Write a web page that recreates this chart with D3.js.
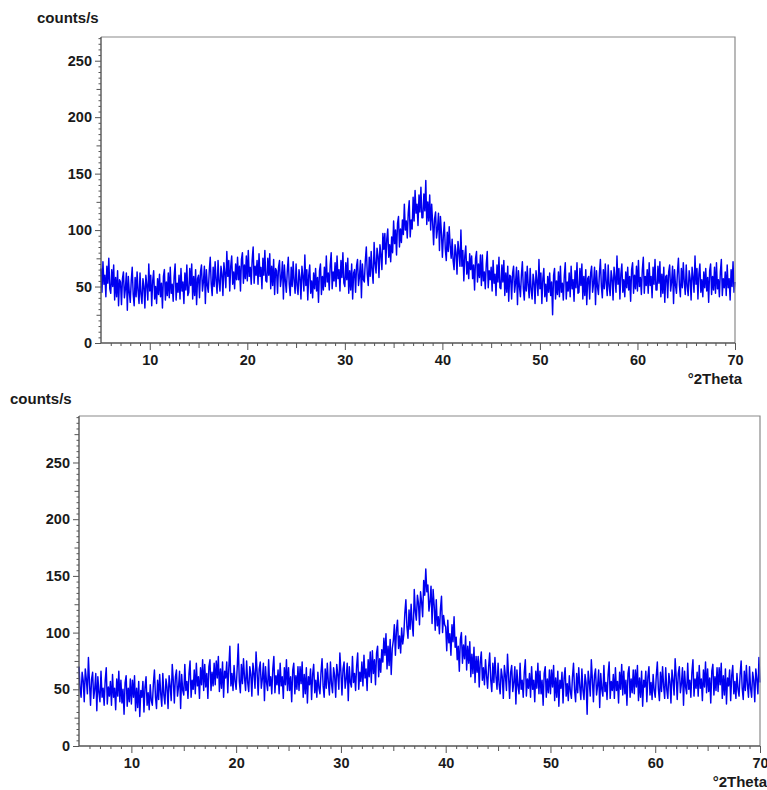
<!DOCTYPE html>
<html><head><meta charset="utf-8">
<script src="https://cdn.jsdelivr.net/npm/d3@7"></script>
<style>
body{margin:0;background:#fff}
svg{display:block}
text{font-family:"Liberation Sans",Arial,sans-serif;font-weight:bold;fill:#1a1a1a}
</style>
</head><body>
<svg id="chart" width="767" height="790"></svg>
<script>
// Scan grid: 5 to 70 °2Theta, one reading every 0.1°
const scanStart = 5;
const scanEnd = 70;
const scanStep = 0.1;
const xTicks = [10, 20, 30, 40, 50, 60, 70];
const yTicks = [0, 50, 100, 150, 200, 250];
const yUnit = "counts/s";
const xUnit = "°2Theta";

// Sample 1 intensities (counts/s), one row per degree
const sample1 = [
66,45,72,52,60,41,68,53,75,48,
44,65,50,69,38,58,41,64,33,56,
54,34,57,63,40,48,62,29,59,45,
36,55,67,43,33,58,41,63,46,35,
62,43,35,57,50,31,60,51,38,70,
46,60,33,55,64,39,50,35,57,43,
61,41,53,31,59,65,38,54,42,62,
40,67,44,52,37,59,70,38,53,45,
60,39,66,46,54,35,62,47,69,42,
45,66,51,70,39,59,42,65,34,57,
60,40,63,69,46,54,68,35,65,51,
45,64,76,52,42,67,50,72,55,44,
73,54,46,68,61,42,71,62,49,81,
59,73,46,68,77,52,63,48,70,56,
76,56,68,46,74,80,53,69,57,77,
55,82,59,67,52,74,85,53,68,60,
73,52,79,59,67,48,75,60,82,55,
54,75,60,79,48,68,51,74,43,66,
64,44,67,73,50,58,72,39,69,55,
45,64,76,52,42,67,50,72,55,44,
70,51,43,65,58,39,68,59,46,78,
51,65,38,60,69,44,55,40,62,48,
66,46,58,36,64,70,43,59,47,67,
50,77,54,62,47,69,80,48,63,55,
71,50,77,57,65,46,73,58,80,53,
50,71,56,75,44,64,47,70,39,62,
65,45,68,74,51,59,73,40,70,56,
54,73,85,61,51,76,59,81,64,53,
89,70,62,84,77,58,87,78,65,97,
83,97,70,92,101,76,87,72,94,80,
108,88,100,78,106,112,85,101,89,109,
96,123,100,108,93,115,126,94,109,101,
129,108,135,115,123,104,131,116,138,111,
111,132,117,144,105,125,108,131,100,123,
107,87,110,116,93,101,115,82,112,98,
76,95,107,83,73,98,81,103,86,75,
92,73,65,87,80,61,90,81,68,100,
68,82,55,77,86,61,72,57,79,65,
77,57,69,47,75,81,54,70,58,78,
51,78,55,63,48,70,81,49,64,56,
67,46,73,53,61,42,69,54,76,49,
48,69,54,73,42,62,45,68,37,60,
59,39,62,68,45,53,67,34,64,50,
41,60,72,48,38,63,46,68,51,40,
66,47,39,61,54,35,64,55,42,74,
48,62,35,57,66,41,52,37,59,45,
62,42,54,25,60,66,39,55,43,63,
41,68,45,53,38,60,71,39,54,46,
62,41,68,48,56,37,64,49,71,44,
45,66,51,70,39,59,42,65,34,57,
59,39,62,68,45,53,67,34,64,50,
43,62,74,50,40,65,48,70,53,42,
69,50,42,64,57,38,67,58,45,77,
52,66,39,61,70,45,56,41,63,49,
67,47,59,37,65,71,44,60,48,68,
46,73,50,58,43,65,76,44,59,51,
65,44,71,51,59,40,67,52,74,47,
47,68,53,72,41,61,44,67,36,59,
60,40,63,69,46,54,68,35,65,51,
44,63,75,51,41,66,49,71,54,43,
69,50,42,64,57,38,67,58,45,77,
52,66,39,61,70,45,56,41,63,49,
66,46,58,36,64,70,43,59,47,67,
44,71,48,56,41,63,74,42,57,49,
63,42,69,49,57,38,65,50,72,45,
54
];

// Sample 2 intensities (counts/s), one row per degree
const sample2 = [
70,51,43,65,58,39,68,59,46,78,
56,36,59,65,42,50,64,31,61,47,
39,66,43,51,36,58,69,37,52,44,
57,36,63,43,51,32,59,44,66,39,
58,38,50,28,56,62,35,51,39,59,
37,58,43,62,31,51,34,57,26,49,
43,57,30,52,61,36,47,32,54,40,
36,55,67,43,33,58,41,63,46,35,
64,45,37,59,52,33,62,53,40,72,
58,38,61,67,44,52,66,33,63,49,
45,72,49,57,42,64,75,43,58,50,
67,46,73,53,61,42,69,54,76,49,
72,52,64,42,70,76,49,65,53,73,
54,75,60,79,48,68,51,74,43,66,
60,74,47,69,88,53,64,49,71,57,
50,69,90,57,47,72,55,77,60,49,
75,56,48,70,63,44,73,64,51,83,
65,45,68,74,51,59,73,40,70,56,
49,76,53,61,46,68,79,47,62,54,
67,46,73,53,61,42,69,54,76,49,
69,49,61,39,67,73,46,62,50,70,
49,70,55,74,43,63,46,69,38,61,
54,68,41,63,72,47,58,43,65,51,
46,65,77,53,43,68,51,73,56,45,
74,55,47,69,62,43,72,63,50,82,
65,45,68,74,51,59,73,40,70,56,
52,79,56,64,49,71,82,50,65,57,
74,53,80,60,68,49,76,61,83,56,
84,64,76,54,82,88,61,77,65,85,
74,95,80,99,68,88,71,94,63,86,
93,107,80,102,111,86,97,82,104,90,
98,117,129,105,95,120,103,125,108,97,
138,119,111,133,126,107,136,127,114,146,
133,156,136,142,119,127,141,108,138,124,
102,129,106,114,99,121,132,100,115,107,
105,84,111,91,99,80,107,92,114,87,
96,76,88,66,94,100,73,89,77,97,
67,88,73,92,61,81,64,87,56,79,
65,79,52,74,83,58,69,54,76,62,
51,70,82,58,48,73,56,78,61,50,
73,54,46,68,61,42,71,62,49,81,
62,42,65,71,48,56,70,37,67,53,
46,73,50,58,43,65,76,44,59,51,
64,43,70,50,58,39,66,51,73,46,
66,46,58,36,64,70,43,59,47,67,
46,67,52,71,40,60,43,66,35,58,
51,65,38,60,69,44,55,40,62,48,
42,61,73,49,39,64,47,69,52,41,
68,49,41,63,56,28,66,57,44,76,
59,39,62,68,45,53,67,34,64,50,
44,71,48,56,41,63,74,42,57,49,
63,42,69,49,57,38,65,50,72,45,
66,46,58,36,64,70,43,59,47,67,
46,67,52,71,40,60,43,66,35,58,
52,66,39,61,70,45,56,41,63,49,
43,62,74,50,40,65,48,70,53,42,
69,50,42,64,57,38,67,58,45,77,
61,41,64,70,47,55,69,36,66,52,
46,73,50,58,43,65,76,44,59,51,
65,44,71,51,59,40,67,52,74,47,
68,48,60,38,66,72,45,61,49,69,
48,69,54,73,42,62,45,68,37,60,
53,67,40,62,71,46,57,42,64,50,
44,63,75,51,41,66,49,71,54,43,
70,51,43,65,58,39,68,59,46,78,
56
];

const svg = d3.select("#chart");

function drawPanel(values, box) {
  const g = svg.append("g");
  const x = d3.scaleLinear().domain([scanStart, scanEnd]).range([box.left, box.right]);
  const y = d3.scaleLinear().domain([0, box.yMax]).range([box.bottom, box.top]);

  // intensity trace
  const line = d3.line()
    .x((d, i) => x(scanStart + i * scanStep))
    .y(d => y(d));
  g.append("path")
    .datum(values)
    .attr("fill", "none")
    .attr("stroke", "#0000f0")
    .attr("stroke-width", 1.45)
    .attr("stroke-linejoin", "round")
    .attr("d", line);

  // frame: top and right edges
  g.append("path")
    .attr("d", `M${box.left},${box.top}H${box.right}V${box.bottom}`)
    .attr("fill", "none").attr("stroke", "#8a8a8a").attr("stroke-width", 1.2);

  // minor ticks
  const xMinor = d3.range(scanStart + 1, scanEnd, 1).filter(v => v % 10 !== 0);
  g.append("g").attr("transform", `translate(0,${box.bottom})`)
    .call(d3.axisBottom(x).tickValues(xMinor).tickSize(3).tickFormat(""))
    .call(a => a.select(".domain").remove())
    .call(a => a.selectAll("line").attr("stroke", "#555")
      .attr("y2", d => d % 5 === 0 ? 5 : 3));
  const yMinor = d3.range(5, box.yMax, 5).filter(v => v % 50 !== 0);
  g.append("g").attr("transform", `translate(${box.left},0)`)
    .call(d3.axisLeft(y).tickValues(yMinor).tickSize(3).tickFormat(""))
    .call(a => a.select(".domain").remove())
    .call(a => a.selectAll("line").attr("stroke", "#555")
      .attr("x2", d => d % 25 === 0 ? -4.5 : -2.5));

  // major axes
  const xa = g.append("g").attr("transform", `translate(0,${box.bottom})`)
    .call(d3.axisBottom(x).tickValues(xTicks).tickSize(7).tickPadding(5).tickSizeOuter(0));
  const ya = g.append("g").attr("transform", `translate(${box.left},0)`)
    .call(d3.axisLeft(y).tickValues(yTicks).tickSize(6).tickPadding(3).tickSizeOuter(0));
  [xa, ya].forEach(a => {
    a.select(".domain").attr("stroke", "#555").attr("stroke-width", 1.4);
    a.selectAll("line").attr("stroke", "#555");
    a.selectAll("text").attr("font-size", 14.5).attr("font-family", null).attr("fill", "#1a1a1a");
  });
  // axis lines run across the full plot
  xa.select(".domain").attr("d", `M${box.left},0H${box.right}`);
  ya.select(".domain").attr("d", `M0,${box.bottom}V${box.top}`);

  // unit labels
  g.append("text").attr("x", box.left + box.yTitleDx).attr("y", box.top + box.yTitleDy)
    .attr("font-size", 15).text(yUnit);
  g.append("text").attr("x", box.right + 7).attr("y", box.bottom + 40.5)
    .attr("text-anchor", "end").attr("font-size", 15).text(xUnit);
}

drawPanel(sample1, {left: 101, right: 735, top: 37, bottom: 343, yMax: 271, yTitleDx: -64, yTitleDy: -14});
drawPanel(sample2, {left: 79, right: 760, top: 416, bottom: 746, yMax: 291, yTitleDx: -69, yTitleDy: -12});
</script>
</body></html>
